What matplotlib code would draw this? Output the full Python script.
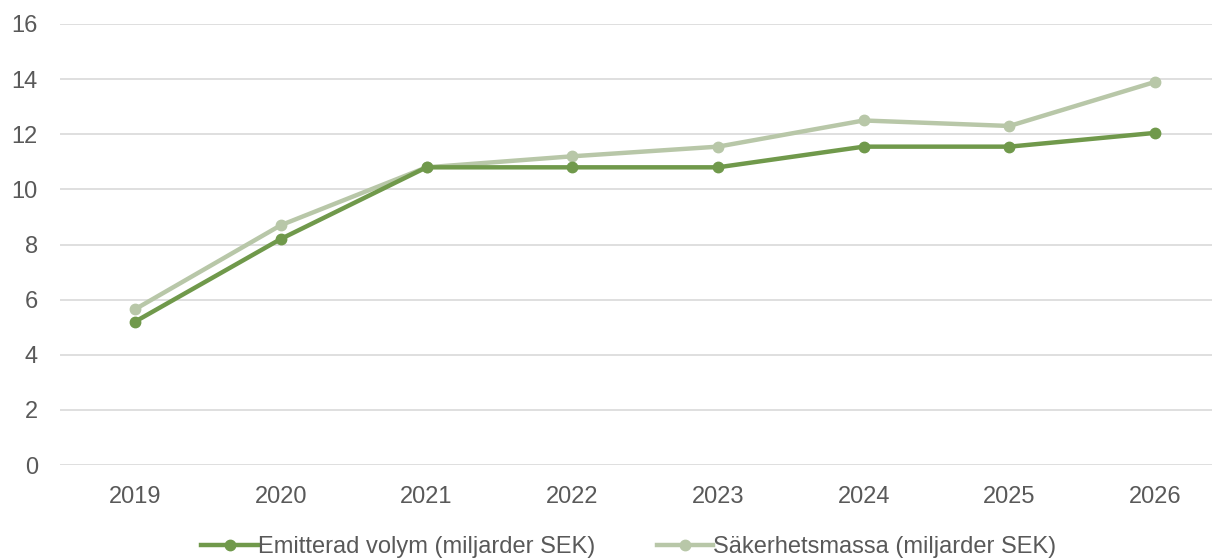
import matplotlib
matplotlib.use("Agg")
import matplotlib.pyplot as plt

years = ["2019", "2020", "2021", "2022", "2023", "2024", "2025", "2026"]
emitterad = [5.2, 8.2, 10.8, 10.8, 10.8, 11.55, 11.55, 12.05]
sakerhet = [5.65, 8.7, 10.8, 11.2, 11.55, 12.5, 12.3, 13.9]
yticks = [0, 2, 4, 6, 8, 10, 12, 14, 16]

dark = "#70994b"
light = "#b8c7a8"
txt = "#595959"

plt.rcParams['font.family'] = ['Liberation Sans', 'DejaVu Sans']

fig = plt.figure(figsize=(12.18, 5.58), dpi=100)
ax = fig.add_axes([60/1218, 1-465/558, (1212-60)/1218, (465-24)/558])

x = list(range(len(years)))
ax.plot(x, emitterad, color=dark, lw=3.2, marker="o", ms=7.5, label="Emitterad volym (miljarder SEK)", zorder=3)
ax.plot(x, sakerhet, color=light, lw=3.2, marker="o", ms=7.5, label="Säkerhetsmassa (miljarder SEK)", zorder=2)

ax.set_xlim(-0.515, 7.39)
ax.set_ylim(0, 16)
ax.set_yticks(yticks)
ax.set_yticklabels([str(v) for v in yticks])
ax.set_xticks(x)
ax.set_xticklabels(years)
ax.grid(axis="y", color="#d9d9d9", lw=1.2)
ax.set_axisbelow(True)
for s in ax.spines.values():
    s.set_visible(False)
ax.tick_params(axis="both", length=0, labelsize=17, colors=txt)
ax.tick_params(axis="y", pad=16)
ax.tick_params(axis="x", pad=15)

leg = fig.legend(loc="center", bbox_to_anchor=(629/1218, 1-547/558), ncol=2, frameon=False,
                 fontsize=17, handlelength=2.4, handletextpad=0.0, columnspacing=2.6)
for t in leg.get_texts():
    t.set_color(txt)

fig.savefig("out.png", dpi=100)
